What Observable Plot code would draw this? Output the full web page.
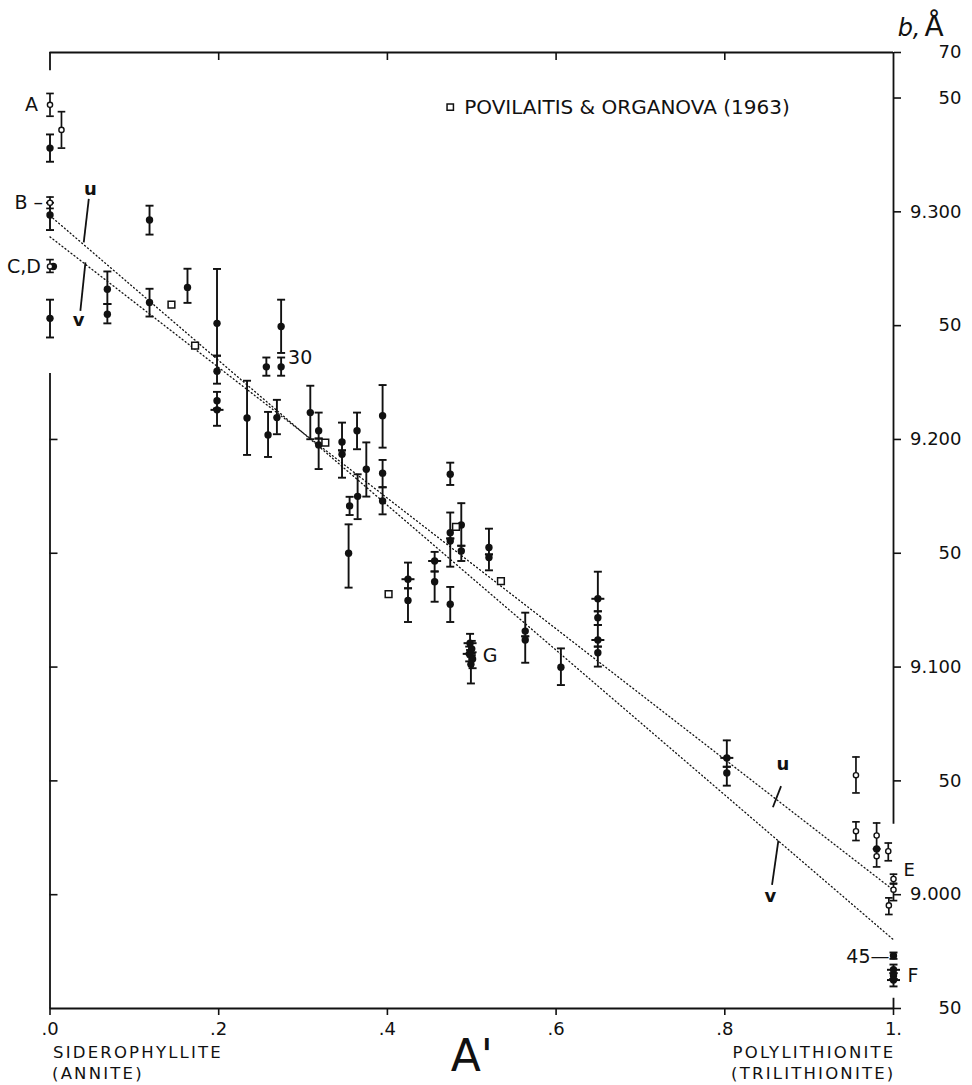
<!DOCTYPE html>
<html>
<head>
<meta charset="utf-8">
<script src="https://cdn.jsdelivr.net/npm/d3@7"></script>
<script src="https://cdn.jsdelivr.net/npm/@observablehq/plot@0.6"></script>
<style>
  html, body { margin: 0; padding: 0; background: #fff; }
  #chart svg { display: block; }
</style>
</head>
<body>
<div id="chart"></div>
<script>
// ---- Measured specimens (filled symbols): A', b in Å, error limits, glyph ----
const solidA  = [0, 0, 0.004, 0, 0.068, 0.068, 0.118, 0.118, 0.163, 0.198, 0.198, 0.198, 0.198,
  0.2565, 0.274, 0.274, 0.2336, 0.2585, 0.269, 0.3086, 0.3185, 0.3185, 0.3462, 0.3462, 0.3552, 0.354,
  0.364, 0.3647, 0.375, 0.3943, 0.3943, 0.3943, 0.4244, 0.4244, 0.456, 0.456, 0.4745, 0.4745, 0.4745,
  0.4745, 0.4876, 0.4876, 0.5204, 0.5204, 0.498, 0.5, 0.497, 0.501, 0.499, 0.5634, 0.5634, 0.6057,
  0.6495, 0.6495, 0.6495, 0.6495, 0.8024, 0.8024, 0.98, 1, 1, 1, 1];
const solidB  = [9.328, 9.2986, 9.276, 9.2532, 9.266, 9.255, 9.2964, 9.2602, 9.2668, 9.251, 9.230, 9.217, 9.213,
  9.2319, 9.2496, 9.2319, 9.2094, 9.202, 9.2096, 9.2118, 9.2038, 9.1976, 9.1989, 9.1935, 9.1708, 9.150,
  9.2038, 9.175, 9.1869, 9.2104, 9.1852, 9.173, 9.1386, 9.1293, 9.1466, 9.1375, 9.1847, 9.159, 9.1554,
  9.1276, 9.1624, 9.151, 9.1525, 9.1481, 9.1105, 9.108, 9.1058, 9.1035, 9.1012, 9.1158, 9.1119, 9.0999,
  9.130, 9.1217, 9.1119, 9.1063, 9.0601, 9.0535, 9.0201, 8.9732, 8.967, 8.9644, 8.9625];
const solidLo = [9.322, 9.292, null, 9.2448, 9.2595, 9.251, 9.290, 9.254, 9.260, 9.2368, 9.2245, 9.2135, 9.206,
  9.228, 9.238, 9.228, 9.1932, 9.1923, 9.2023, 9.2001, 9.2004, 9.187, 9.1952, 9.1832, 9.1668, 9.1349,
  9.1957, 9.165, 9.1749, 9.1964, 9.179, 9.1671, 9.1346, 9.1198, 9.142, 9.1287, 9.18, 9.1565, 9.1441,
  9.1198, 9.1533, 9.1466, 9.1495, 9.1425, 9.1075, 9.105, 9.1025, 9.0995, 9.0928, 9.1135, 9.1019, 9.0921,
  9.1245, 9.1185, 9.109, 9.1002, 9.0562, 9.0479, null, 8.9718, 8.9655, 8.963, 8.9597];
const solidHi = [9.334, 9.304, null, 9.2614, 9.2738, 9.2595, 9.3027, 9.2662, 9.275, 9.2749, 9.2368, 9.2209, 9.2135,
  9.236, 9.2614, 9.236, 9.2258, 9.2121, 9.2174, 9.2236, 9.2118, 9.2004, 9.2074, 9.1952, 9.1748, 9.1627,
  9.2118, 9.1847, 9.1987, 9.2239, 9.191, 9.179, 9.1459, 9.1346, 9.1506, 9.142, 9.1898, 9.1679, 9.1565,
  9.1352, 9.172, 9.1533, 9.1608, 9.1495, 9.1146, 9.1115, 9.109, 9.1065, 9.1045, 9.1239, 9.1135, 9.1082,
  9.1419, 9.1245, 9.1185, 9.109, 9.0678, 9.0562, null, 8.9746, 8.9693, 8.9655, 8.963];
// "dot" = plain filled circle, "barred" = filled circle crossed by a bar
const solidGlyph = ["dot", "dot", "dot", "dot", "dot", "dot", "dot", "dot", "dot", "dot", "dot", "dot", "barred",
  "dot", "dot", "dot", "dot", "dot", "dot", "dot", "dot", "dot", "dot", "dot", "dot", "dot",
  "dot", "dot", "dot", "dot", "dot", "dot", "barred", "dot", "barred", "dot", "dot", "dot", "dot",
  "dot", "dot", "dot", "dot", "dot", "barred", "dot", "barred", "dot", "dot", "dot", "dot", "dot",
  "barred", "dot", "barred", "dot", "barred", "dot", "dot", "dot", "barred", "dot", "barred"];

// ---- Open-circle specimens ----
const openA  = [0, 0.0136, 0, 0, 0.9555, 0.9555, 0.98, 0.98, 0.9938, 1, 1, 0.9945];
const openB  = [9.347, 9.336, 9.304, 9.276, 9.0525, 9.0279, 9.026, 9.0169, 9.0191, 9.0069, 9.0022, 8.9953];
const openLo = [9.342, 9.328, 9.3015, 9.2734, 9.0447, 9.0238, 9.0201, 9.0122, 9.0149, 9.005, 8.9974, 8.9913];
const openHi = [9.352, 9.344, 9.3065, 9.279, 9.0605, 9.032, 9.0315, 9.0201, 9.0227, 9.009, 9.0047, 8.9986];

// ---- Povilaitis & Organova (1963) ----
const povA = [0.144, 0.172, 0.3264, 0.4014, 0.4813, 0.5346];
const povB = [9.2592, 9.2412, 9.1986, 9.132, 9.1616, 9.1378];

// ---- Regression lines u and v (end points) ----
const fitSteepA = [0, 1];
const fitSteepB = [9.2983, 8.9802];
const fitShallowA = [0, 1];
const fitShallowB = [9.289, 9.002];

// ---- Axis ticks ----
const aTicks = [0, 0.2, 0.4, 0.6, 0.8, 1];
const aTickLabels = [".0", ".2", ".4", ".6", ".8", "1."];
const bTicks = [8.95, 9.0, 9.05, 9.1, 9.15, 9.2, 9.25, 9.3, 9.35, 9.37];
const bTickLabels = ["50", "9.000", "50", "9.100", "50", "9.200", "50", "9.300", "50", "70"];
const bInnerTicks = [9.0, 9.05, 9.1, 9.15, 9.2];

// ---- Specimen labels ----
const tagText = ["A", "B –", "C,D", "30", "G", "E", "F", "45—"];
const tagA    = [0, 0, 0, 0.274, 0.5, 1, 1, 1];
const tagB    = [9.347, 9.304, 9.276, 9.236, 9.105, 9.0108, 8.9645, 8.9727];

// ---- u / v line labels with their leaders ----
const uvText = ["u", "v", "u", "v"];
const uvA = [0.048, 0.034, 0.869, 0.854];
const uvB = [9.310, 9.2525, 9.0572, 8.9995];
const leaderA1 = [0.046, 0.036, 0.8667, 0.856];
const leaderB1 = [9.3057, 9.2565, 9.0477, 9.0043];
const leaderA2 = [0.040, 0.042, 0.857, 0.8635];
const leaderB2 = [9.2866, 9.2778, 9.0384, 9.0238];

// ---- End-member names under the composition axis ----
const endMemberText = ["SIDEROPHYLLITE", "(ANNITE)", "POLYLITHIONITE", "(TRILITHIONITE)"];
const endMemberA = [0, 0, 1, 1];

// ---- Legend ----
const legendA = 0.4745;
const legendB = 9.346;
const legendText = "POVILAITIS & ORGANOVA (1963)";

// ---- Tables built from the arrays ----
const solid = solidA.map((a, i) => ({a, b: solidB[i], lo: solidLo[i], hi: solidHi[i], glyph: solidGlyph[i]}));
const solidBars = solid.filter(d => d.lo != null);
const open = openA.map((a, i) => ({a, b: openB[i], lo: openLo[i], hi: openHi[i]}));
const pov = povA.map((a, i) => ({a, b: povB[i]}));
const fitSteep = fitSteepA.map((a, i) => ({a, b: fitSteepB[i]}));
const fitShallow = fitShallowA.map((a, i) => ({a, b: fitShallowB[i]}));
const tags = tagText.map((t, i) => ({t, a: tagA[i], b: tagB[i]}));
const uv = uvText.map((t, i) => ({t, a: uvA[i], b: uvB[i], a1: leaderA1[i], b1: leaderB1[i], a2: leaderA2[i], b2: leaderB2[i]}));
const endMembers = endMemberText.map((t, i) => ({t, a: endMemberA[i], row: i % 2}));
const aLabel = new Map(aTicks.map((t, i) => [t, aTickLabels[i]]));
const bLabel = new Map(bTicks.map((t, i) => [t, bTickLabels[i]]));

// Label placement: pixel offset and anchor side for each specimen label
const tagOffset = {"A": [-12, "end"], "B –": [-7, "end"], "C,D": [-9, "end"], "30": [7, "start"],
  "G": [11, "start"], "E": [10, "start"], "F": [14, "start"], "45—": [-4, "end"]};

// Horizontal bar glyph used for error-bar caps
const capSymbol = {
  draw(context, size) {
    const w = Math.sqrt(size / Math.PI);
    context.moveTo(-w, 0);
    context.lineTo(w, 0);
  }
};

const ink = "#111";
const dotted = {stroke: ink, strokeWidth: 1.3, strokeDasharray: "1,2.8"};

const chart = Plot.plot({
  width: 972,
  height: 1085,
  marginLeft: 49.5,
  marginRight: 79,
  marginTop: 52,
  marginBottom: 77,
  x: {domain: [0, 1], axis: null},
  y: {domain: [8.95, 9.37], axis: null},
  style: {fontFamily: "DejaVu Sans, sans-serif", fontSize: "18px", color: ink, background: "#fff"},
  marks: [
    // frame: full top and bottom, broken left and right sides
    Plot.ruleY([9.37, 8.95], {stroke: ink, strokeWidth: 1.8}),
    Plot.ruleX([{y1: 9.362, y2: 9.37}, {y1: 8.95, y2: 9.229}], {x: () => 0, y1: "y1", y2: "y2", stroke: ink, strokeWidth: 1.8}),
    Plot.ruleX([{y1: 9.031, y2: 9.37}, {y1: 8.95, y2: 8.9545}], {x: () => 1, y1: "y1", y2: "y2", stroke: ink, strokeWidth: 1.8}),

    // axes
    Plot.axisX({anchor: "bottom", ticks: aTicks, tickSize: 7, tickPadding: 7, tickFormat: d => aLabel.get(d),
      label: null, fontSize: 18, stroke: ink, strokeWidth: 1.6}),
    Plot.axisX({anchor: "top", ticks: [0.2, 0.4, 0.6, 0.8], tickSize: -7, fill: "none", label: null, stroke: ink, strokeWidth: 1.6}),
    Plot.axisY({anchor: "right", ticks: bTicks, tickSize: 7, tickPadding: 61, textAnchor: "end",
      tickFormat: d => bLabel.get(d), label: null, fontSize: 18, stroke: ink, strokeWidth: 1.6}),
    Plot.axisY({anchor: "left", ticks: bInnerTicks, tickSize: -8, fill: "none", label: null, stroke: ink, strokeWidth: 1.6}),

    // regression lines
    Plot.line(fitSteep, {x: "a", y: "b", ...dotted}),
    Plot.line(fitShallow, {x: "a", y: "b", ...dotted}),

    // error bars
    Plot.ruleX(solidBars, {x: "a", y1: "lo", y2: "hi", stroke: ink, strokeWidth: 1.9}),
    Plot.dot(solidBars, {x: "a", y: "lo", symbol: capSymbol, r: 4, fill: "none", stroke: ink, strokeWidth: 1.9}),
    Plot.dot(solidBars, {x: "a", y: "hi", symbol: capSymbol, r: 4, fill: "none", stroke: ink, strokeWidth: 1.9}),
    Plot.ruleX(open, {x: "a", y1: "lo", y2: "hi", stroke: ink, strokeWidth: 1.7}),
    Plot.dot(open, {x: "a", y: "lo", symbol: capSymbol, r: 3.8, fill: "none", stroke: ink, strokeWidth: 1.7}),
    Plot.dot(open, {x: "a", y: "hi", symbol: capSymbol, r: 3.8, fill: "none", stroke: ink, strokeWidth: 1.7}),

    // specimens
    Plot.dot(solid, {x: "a", y: "b", r: 3.7, fill: ink, stroke: "none", symbol: "circle"}),
    Plot.dot(solid.filter(d => d.glyph === "barred"), {x: "a", y: "b", symbol: capSymbol, r: 6.5, fill: "none", stroke: ink, strokeWidth: 2}),
    Plot.dot(open, {x: "a", y: "b", r: 2.6, fill: "#fff", stroke: ink, strokeWidth: 1.4}),
    Plot.dot(pov, {x: "a", y: "b", symbol: "square", r: 3.8, fill: "#fff", stroke: ink, strokeWidth: 1.5}),

    // legend
    Plot.dot([{a: legendA, b: legendB}], {x: "a", y: "b", symbol: "square", r: 3.6, fill: "#fff", stroke: ink, strokeWidth: 1.5}),
    Plot.text([legendText], {x: () => legendA, y: () => legendB, text: d => d, textAnchor: "start", dx: 14, fontSize: 20, fill: ink}),

    // specimen labels
    tags.map(d => Plot.text([d], {x: "a", y: "b", text: "t", dx: tagOffset[d.t][0], textAnchor: tagOffset[d.t][1],
      fontSize: d.t === "E" ? 18 : 19, fill: ink})),

    // u / v labels
    Plot.link(uv, {x1: "a1", y1: "b1", x2: "a2", y2: "b2", stroke: ink, strokeWidth: 1.8}),
    Plot.text(uv, {x: "a", y: "b", text: "t", fontSize: 18, fontWeight: "bold", fill: ink}),

    // axis titles
    Plot.text(["b,"], {x: () => 1, frameAnchor: "top", text: d => d, textAnchor: "end", lineAnchor: "bottom", dx: 27, dy: -17, fontSize: 24, fontStyle: "italic", fill: ink}),
    Plot.text(["Å"], {x: () => 1, frameAnchor: "top", text: d => d, textAnchor: "start", lineAnchor: "bottom", dx: 31, dy: -17, fontSize: 28, fill: ink}),
    Plot.text(["A'"], {x: () => 0.5, frameAnchor: "bottom", text: d => d, textAnchor: "middle", lineAnchor: "bottom", dy: 62, fontSize: 44, fill: ink}),

    // end-member names, two rows at each end of the axis
    endMembers.map(d => Plot.text([d], {x: "a", frameAnchor: "bottom", text: "t",
      textAnchor: d.a === 0 ? "start" : "end", lineAnchor: "bottom",
      dx: d.a === 0 ? (d.row ? 2 : 3) : 2, dy: d.row ? 70 : 49, fontSize: 16.5, fill: ink}))
  ]
});

// the hand lettering of the end-member names is widely spaced
d3.select(chart).selectAll("text")
  .filter(function () { return endMemberText.includes(this.textContent); })
  .attr("letter-spacing", "2.2px");

document.getElementById("chart").appendChild(chart);
</script>
</body>
</html>
